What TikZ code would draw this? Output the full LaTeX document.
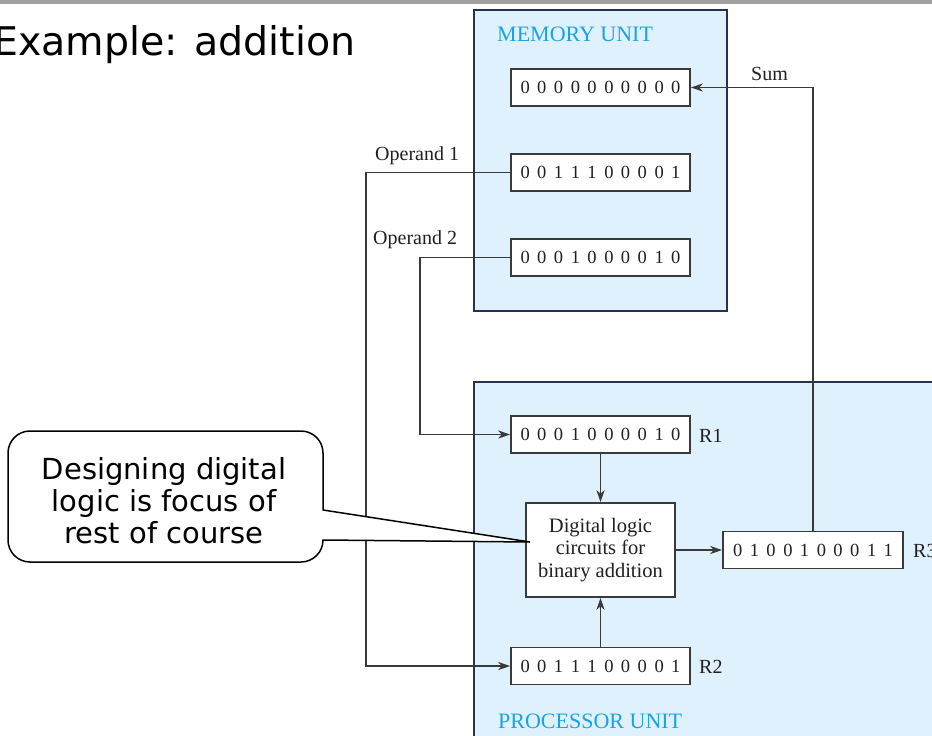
\documentclass[tikz,border=0pt]{standalone}
\usepackage{fontspec}
\setmainfont{Liberation Serif}
\newfontfamily\dejavu{DejaVu Sans}
\usetikzlibrary{arrows.meta}
\definecolor{unitfill}{HTML}{DFF1FC}
\definecolor{unitdraw}{HTML}{2A3050}
\definecolor{unitlabel}{HTML}{1BA3E6}
\definecolor{wire}{HTML}{3A3A3A}
\definecolor{topbar}{HTML}{A0A0A0}
\definecolor{ink}{HTML}{231F20}
\newcommand{\regbits}[1]{\makebox[160pt][s]{#1}}
\begin{document}
\begin{tikzpicture}[x=1pt,y=-1pt,
  unit/.style={fill=unitfill,draw=unitdraw,line width=1.5pt,inner sep=0pt},
  reg/.style={draw=wire,fill=white,line width=1.6pt,minimum width=179pt,minimum height=37pt,inner sep=0pt,text=ink,font=\fontsize{18.5}{20}\selectfont},
  wirel/.style={draw=wire,line width=1.5pt},
  arr/.style={wirel,-{Stealth[length=12pt,width=8pt,inset=3.5pt]}},
  lbl/.style={inner sep=0pt,anchor=base west,text=ink,font=\fontsize{20}{22}\selectfont},
  unitlbl/.style={inner sep=0pt,anchor=base west,text=unitlabel,font=\fontsize{22}{24}\selectfont},
  callout/.style={draw=black,fill=white,line width=1.5pt},
]
\useasboundingbox (0,0) rectangle (932,736);
\clip (0,0) rectangle (932,736);
\fill[white] (0,0) rectangle (932,736);
\fill[topbar] (0,0) rectangle (932,3.5);
\node[inner sep=0pt,anchor=base west,font=\dejavu\fontsize{39.5}{44}\selectfont] (title) at (-7,55) {Example: addition};

% units
\node[unit,minimum width=253pt,minimum height=301pt] (mem) at (600.5,160.5) {};
\node[unit,minimum width=476pt,minimum height=378pt] (proc) at (712,571) {};
\node[unitlbl] (memlbl) at (497,41) {MEMORY UNIT};
\node[unitlbl] (proclbl) at (498,728) {PROCESSOR UNIT};

% memory registers
\node[reg] (m0) at (600.5,87.5) {\regbits{0 0 0 0 0 0 0 0 0 0}};
\node[reg] (m1) at (600.5,172.5) {\regbits{0 0 1 1 1 0 0 0 0 1}};
\node[reg] (m2) at (600.5,257.5) {\regbits{0 0 0 1 0 0 0 0 1 0}};

% processor registers
\node[reg] (r1) at (600.5,434.5) {\regbits{0 0 0 1 0 0 0 0 1 0}};
\node[reg] (r2) at (600.5,666) {\regbits{0 0 1 1 1 0 0 0 0 1}};
\node[reg,minimum width=180pt] (r3) at (813,550) {\regbits{0 1 0 0 1 0 0 0 1 1}};
\node[draw=wire,fill=white,line width=1.6pt,minimum width=149pt,minimum height=94pt,inner sep=0pt,align=center,text=ink,font=\fontsize{20.5}{22.5}\selectfont] (logic) at (600.5,550) {Digital logic\\circuits for\\binary addition};

% labels
\node[lbl] (sumlbl) at (751,80) {Sum};
\node[lbl] (op1lbl) at (375,160) {Operand 1};
\node[lbl] (op2lbl) at (373,244) {Operand 2};
\node[lbl] (r1lbl) at (699,442) {R1};
\node[lbl] (r2lbl) at (699,673) {R2};
\node[lbl] (r3lbl) at (913,557) {R3};

% connectors
\draw[arr] (r3.north) |- (m0.east);
\draw[arr] (m1.west) -- ++(-144,0) |- (r2.west);
\draw[arr] (m2.west) -- ++(-90,0) |- (r1.west);
\draw[arr] (r1.south) -- (logic.north);
\draw[arr] (r2.north) -- (logic.south);
\draw[arr] (logic.east) -- (r3.west);

% callout
\coordinate (tip) at (530,542);
\draw[callout] (30,431) -- (301,431) arc[start angle=-90,end angle=0,radius=22]
  -- (323,510) -- (tip) -- (323,540)
  arc[start angle=0,end angle=90,radius=22] -- (30,562)
  arc[start angle=90,end angle=180,radius=22] -- (8,453)
  arc[start angle=180,end angle=270,radius=22] -- cycle;
\node[inner sep=0pt,align=center,font=\dejavu\fontsize{29}{32}\selectfont] (note) at (164,501) {Designing digital\\logic is focus of\\rest of course};
\end{tikzpicture}
\end{document}
